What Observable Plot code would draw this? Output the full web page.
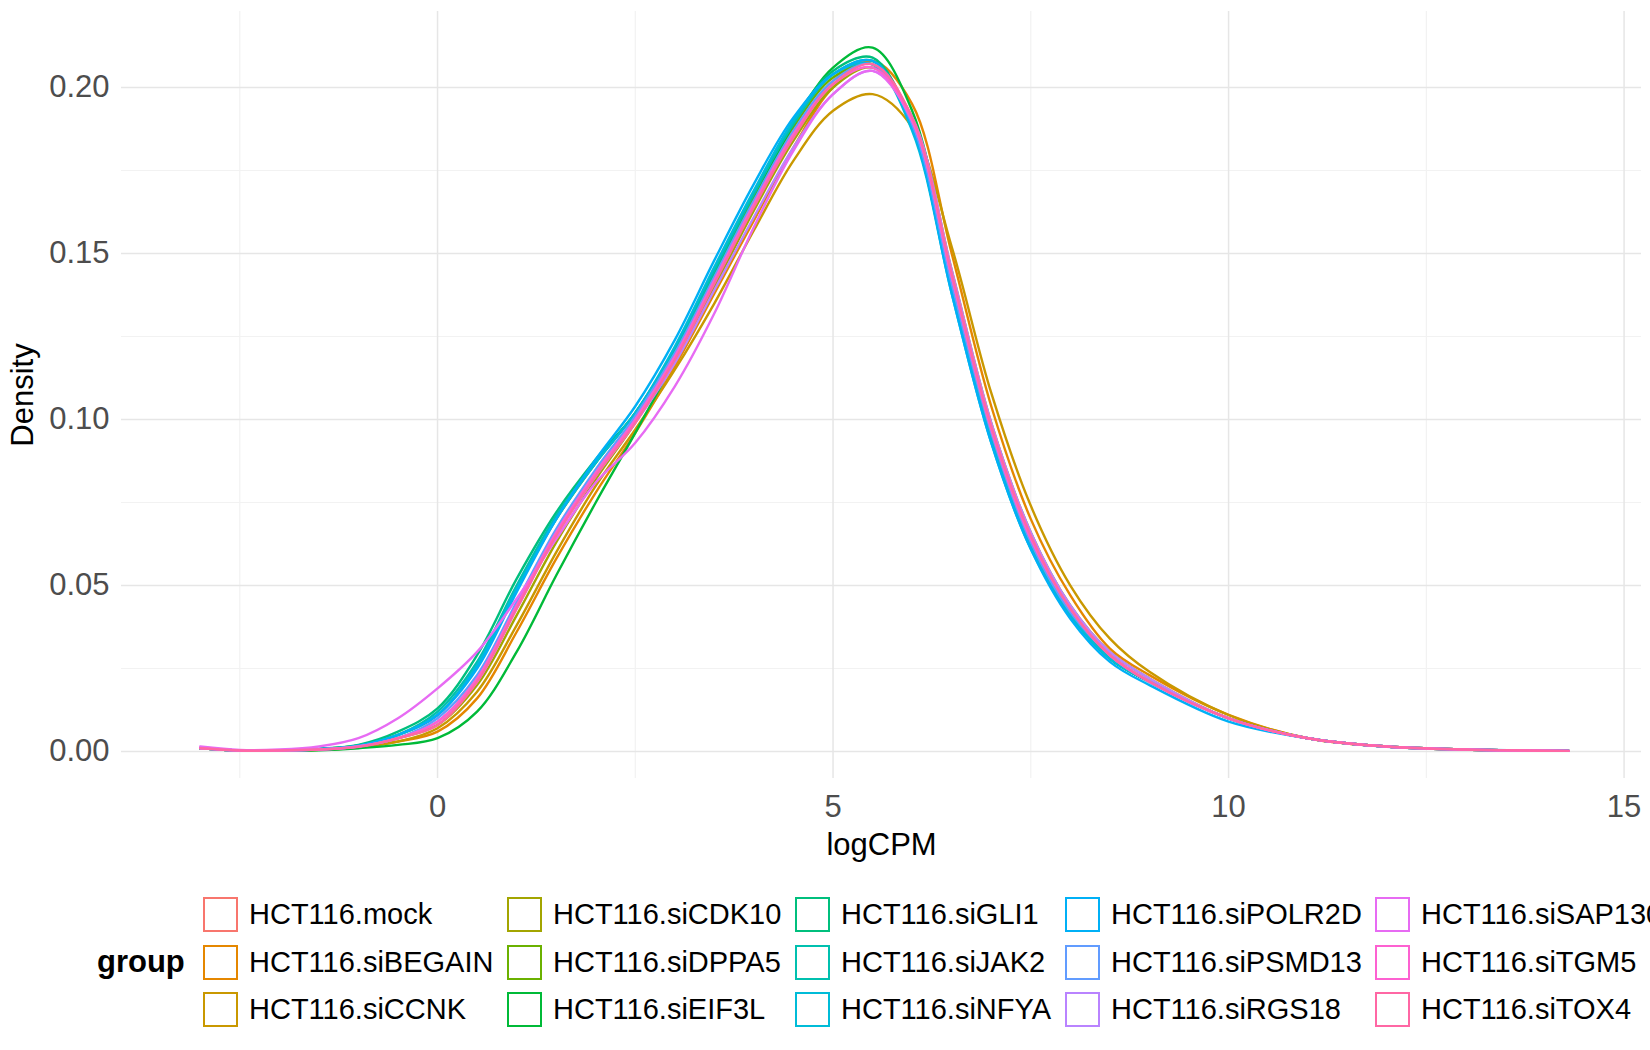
<!DOCTYPE html>
<html><head><meta charset="utf-8">
<script src="https://cdn.jsdelivr.net/npm/d3@7"></script>
<script src="https://cdn.jsdelivr.net/npm/@observablehq/plot@0.6"></script>
<style>
body{margin:0;background:#fff;overflow:hidden;font-family:"Liberation Sans",Arial,sans-serif;}
#wrap{position:relative;width:1650px;height:1050px;overflow:hidden;}
#chart{position:absolute;left:0;top:0;}
#legend{position:absolute;left:0;top:0;width:1650px;height:1050px;pointer-events:none;}
.lt{position:absolute;font-size:29px;color:#000;white-space:nowrap;line-height:34px;}
.lb{position:absolute;width:31px;height:31px;border:2px solid;background:#fff;}
</style></head><body>
<div id="wrap"><div id="chart"></div><div id="legend"></div></div>
<script>
const groups = ["HCT116.mock","HCT116.siBEGAIN","HCT116.siCCNK","HCT116.siCDK10","HCT116.siDPPA5","HCT116.siEIF3L","HCT116.siGLI1","HCT116.siJAK2","HCT116.siNFYA","HCT116.siPOLR2D","HCT116.siPSMD13","HCT116.siRGS18","HCT116.siSAP130","HCT116.siTGM5","HCT116.siTOX4"];
const colors = ["#F8766D","#E58700","#C99800","#A3A500","#6BB100","#00BA38","#00BF7D","#00C0AF","#00BCD8","#00B0F6","#619CFF","#B983FF","#E76BF3","#FD61D1","#FF67A4"];
const xs = [-3,-2.5,-2,-1.5,-1,-0.5,0,0.5,1,1.5,2,2.5,3,3.5,4,4.5,5,5.5,6,6.5,7,7.5,8,8.5,9,10,11,12,13,14.3];
const dMock    = [0.001,0.0003,0.0003,0.0006,0.0015,0.004,0.009,0.022,0.044,0.066,0.084,0.100,0.119,0.142,0.165,0.186,0.202,0.208,0.190,0.142,0.097,0.064,0.043,0.029,0.021,0.010,0.004,0.0015,0.0006,0.0002];
const dBEGAIN  = [0.001,0.0003,0.0003,0.0005,0.0012,0.003,0.006,0.016,0.036,0.058,0.078,0.096,0.116,0.138,0.160,0.182,0.200,0.208,0.195,0.150,0.104,0.070,0.047,0.031,0.023,0.011,0.004,0.0015,0.0006,0.0002];
const dCCNK    = [0.001,0.0003,0.0003,0.0005,0.0013,0.003,0.007,0.018,0.038,0.060,0.080,0.097,0.115,0.135,0.157,0.178,0.193,0.198,0.188,0.152,0.108,0.074,0.050,0.034,0.024,0.011,0.004,0.0015,0.0006,0.0002];
const dCDK10   = [0.001,0.0003,0.0003,0.0006,0.0014,0.004,0.008,0.020,0.041,0.063,0.082,0.099,0.118,0.140,0.163,0.184,0.200,0.206,0.191,0.145,0.099,0.066,0.044,0.030,0.022,0.010,0.004,0.0015,0.0006,0.0002];
const dDPPA5   = [0.001,0.0003,0.0003,0.0007,0.0018,0.005,0.011,0.026,0.049,0.070,0.087,0.102,0.121,0.144,0.167,0.188,0.203,0.207,0.188,0.140,0.095,0.063,0.042,0.028,0.021,0.010,0.004,0.0015,0.0006,0.0002];
const dEIF3L   = [0.001,0.0003,0.0002,0.0004,0.0010,0.002,0.004,0.012,0.030,0.053,0.075,0.096,0.118,0.142,0.166,0.189,0.206,0.212,0.193,0.143,0.096,0.063,0.042,0.028,0.021,0.010,0.004,0.0015,0.0006,0.0002];
const dGLI1    = [0.001,0.0003,0.0003,0.0008,0.0020,0.006,0.013,0.029,0.052,0.072,0.088,0.102,0.121,0.144,0.168,0.190,0.205,0.209,0.188,0.139,0.094,0.062,0.041,0.028,0.021,0.010,0.004,0.0015,0.0006,0.0002];
const dJAK2    = [0.001,0.0003,0.0003,0.0007,0.0018,0.005,0.012,0.027,0.050,0.071,0.087,0.102,0.121,0.145,0.168,0.189,0.204,0.208,0.188,0.139,0.094,0.062,0.041,0.028,0.021,0.010,0.004,0.0015,0.0006,0.0002];
const dNFYA    = [0.001,0.0003,0.0003,0.0007,0.0017,0.005,0.011,0.026,0.049,0.070,0.087,0.102,0.122,0.146,0.169,0.190,0.204,0.207,0.187,0.138,0.093,0.061,0.041,0.028,0.021,0.010,0.004,0.0015,0.0006,0.0002];
const dPOLR2D  = [0.001,0.0003,0.0003,0.0007,0.0017,0.005,0.011,0.025,0.048,0.070,0.088,0.104,0.124,0.148,0.171,0.191,0.204,0.208,0.188,0.138,0.093,0.061,0.040,0.027,0.020,0.009,0.004,0.0014,0.0006,0.0002];
const dPSMD13  = [0.001,0.0003,0.0003,0.0006,0.0016,0.004,0.010,0.023,0.045,0.067,0.085,0.101,0.120,0.143,0.166,0.187,0.202,0.207,0.189,0.141,0.096,0.063,0.042,0.029,0.021,0.010,0.004,0.0015,0.0006,0.0002];
const dRGS18   = [0.001,0.0003,0.0003,0.0006,0.0015,0.004,0.009,0.021,0.043,0.065,0.083,0.099,0.117,0.139,0.161,0.182,0.198,0.205,0.191,0.145,0.099,0.066,0.044,0.030,0.022,0.010,0.004,0.0015,0.0006,0.0002];
const dSAP130  = [0.0015,0.0005,0.0006,0.0015,0.004,0.010,0.019,0.030,0.046,0.064,0.081,0.093,0.110,0.132,0.158,0.181,0.198,0.205,0.190,0.143,0.098,0.065,0.043,0.029,0.021,0.010,0.004,0.0015,0.0006,0.0002];
const dTGM5    = [0.001,0.0003,0.0003,0.0006,0.0015,0.004,0.009,0.022,0.044,0.066,0.084,0.100,0.119,0.142,0.165,0.186,0.201,0.206,0.190,0.143,0.097,0.064,0.043,0.029,0.021,0.010,0.004,0.0015,0.0006,0.0002];
const dTOX4    = [0.001,0.0003,0.0003,0.0006,0.0014,0.004,0.008,0.021,0.043,0.065,0.083,0.099,0.118,0.141,0.164,0.185,0.201,0.207,0.191,0.144,0.098,0.065,0.043,0.029,0.021,0.010,0.004,0.0015,0.0006,0.0002];
const series = [dMock,dBEGAIN,dCCNK,dCDK10,dDPPA5,dEIF3L,dGLI1,dJAK2,dNFYA,dPOLR2D,dPSMD13,dRGS18,dSAP130,dTGM5,dTOX4];
const xMajor = [0,5,10,15], xMinor = [-2.5,2.5,7.5,12.5];
const yMajor = [0,0.05,0.10,0.15,0.20], yMinor = [0.025,0.075,0.125,0.175];

const rows = [];
series.forEach((s,i)=>s.forEach((v,j)=>rows.push({group:groups[i], x:xs[j], y:v})));

const chart = Plot.plot({
  width:1650, height:900,
  marginLeft:121, marginRight:9, marginTop:11, marginBottom:122,
  style:{fontFamily:"Liberation Sans, Arial, sans-serif", background:"transparent"},
  x:{domain:[-3.995,15.22], label:null},
  y:{domain:[-0.00813,0.2229], label:null},
  color:{domain:groups, range:colors},
  marks:[
    Plot.ruleX(xMinor,{stroke:"#f2f2f2",strokeWidth:1.2}),
    Plot.ruleY(yMinor,{stroke:"#f2f2f2",strokeWidth:1.2}),
    Plot.ruleX(xMajor,{stroke:"#e6e6e6",strokeWidth:1.5}),
    Plot.ruleY(yMajor,{stroke:"#e6e6e6",strokeWidth:1.5}),
    Plot.axisX({ticks:xMajor, tickSize:0, tickPadding:16, fontSize:31, fill:"#4d4d4d", label:null, tickFormat:d=>d}),
    Plot.axisY({ticks:yMajor, tickSize:0, tickPadding:12, fontSize:31, fill:"#4d4d4d", label:null, tickFormat:d3.format(".2f")}),
    Plot.line(rows,{x:"x", y:"y", z:"group", stroke:"group", strokeWidth:2.4, curve:"catmull-rom"}),
    Plot.text(["logCPM"],{frameAnchor:"bottom", dy:76, fontSize:31, fill:"#000", text:d=>d}),
    Plot.text(["Density"],{frameAnchor:"left", dx:-98, rotate:-90, textAnchor:"middle", fontSize:31, fill:"#000", text:d=>d})
  ]
});
document.getElementById("chart").append(chart);

const leg = document.getElementById("legend");
const g = document.createElement("div");
g.className="lt"; g.textContent="group"; g.style.fontWeight="bold"; g.style.fontSize="31px";
g.style.left="97px"; g.style.top="945px"; leg.append(g);
const colX=[203,507,795,1065,1375], rowY=[914,962,1009];
groups.forEach((name,i)=>{
  const c=Math.floor(i/3), r=i%3;
  const b=document.createElement("div"); b.className="lb";
  b.style.borderColor=colors[i]; b.style.left=colX[c]+"px"; b.style.top=(rowY[r]-17)+"px";
  leg.append(b);
  const t=document.createElement("div"); t.className="lt"; t.textContent=name;
  t.style.left=(colX[c]+46)+"px"; t.style.top=(rowY[r]-17)+"px";
  leg.append(t);
});
</script></body></html>
